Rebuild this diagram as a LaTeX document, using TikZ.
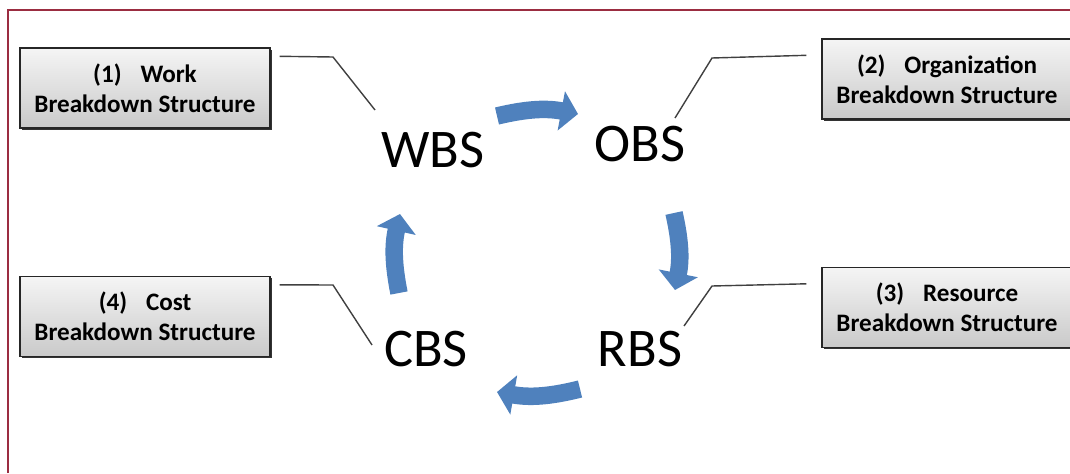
\documentclass[tikz,border=0pt]{standalone}
\usepackage{fontspec}
\setmainfont{Carlito}
\usetikzlibrary{arrows.meta,shadows}

\definecolor{framered}{RGB}{155,45,65}
\definecolor{cycleblue}{RGB}{79,129,189}

\tikzset{
  sbox/.style={draw=black!85, line width=0.8pt, top color=gray!8, bottom color=gray!42,
    minimum width=5cm, minimum height=1.6cm, align=center,
    font=\fontsize{14.3}{17}\selectfont\bfseries,
    drop shadow={shadow xshift=0.9pt, shadow yshift=-0.9pt, fill=black!80, opacity=1}},
  acro/.style={inner sep=0pt, font=\fontsize{31}{31}\selectfont},
  leader/.style={draw=black!75, line width=0.8pt},
  flow/.style={draw=cycleblue, line width=0.35cm, -{Triangle[width=0.78cm,length=0.34cm]}},
}

\begin{document}
\begin{tikzpicture}[x=0.02cm,y=-0.02cm]
  \useasboundingbox (0,0) rectangle (1070,473);
  \draw[framered, line width=1.1pt] (8,473) -- (8,10) -- (1070,10);

  % the four structures
  \node[sbox] (wbsbox) at (145,88) {(1)\hspace{0.75em}Work\\Breakdown Structure};
  \node[sbox] (obsbox) at (947,79) {(2)\hspace{0.75em}Organization\\Breakdown Structure};
  \node[sbox] (rbsbox) at (947,307.5) {(3)\hspace{0.75em}Resource\\Breakdown Structure};
  \node[sbox] (cbsbox) at (145,316.5) {(4)\hspace{0.75em}Cost\\Breakdown Structure};

  \node[acro] (wbs) at (433,150) {WBS};
  \node[acro] (obs) at (640,144) {OBS};
  \node[acro] (rbs) at (640,349) {RBS};
  \node[acro] (cbs) at (426,349) {CBS};

  % leader lines
  \coordinate (w1) at (333,57);  \coordinate (w2) at (375,110);
  \coordinate (o1) at (712,58);  \coordinate (o2) at (675,118);
  \coordinate (r1) at (712,286); \coordinate (r2) at (684,326);
  \coordinate (c1) at (333,285); \coordinate (c2) at (372,345);
  \draw[leader] ([shift={(9,9)}]wbsbox.north east) -- (w1) -- (w2);
  \draw[leader] ([shift={(-15,17)}]obsbox.north west) -- (o1) -- (o2);
  \draw[leader] ([shift={(-15,17)}]rbsbox.north west) -- (r1) -- (r2);
  \draw[leader] ([shift={(9,9)}]cbsbox.north east) -- (c1) -- (c2);

  % cycle arrows
  \coordinate (t1) at (497,116); \coordinate (t2) at (578,114);
  \coordinate (e1) at (674,213); \coordinate (e2) at (675,290);
  \coordinate (b1) at (580,389); \coordinate (b2) at (497,392);
  \coordinate (l1) at (399,293); \coordinate (l2) at (400,214);
  \draw[flow] (t1) to[bend left=12] (t2);
  \draw[flow] (e1) to[bend left=12] (e2);
  \draw[flow] (b1) to[bend left=12] (b2);
  \draw[flow] (l1) to[bend left=12] (l2);
\end{tikzpicture}
\end{document}
